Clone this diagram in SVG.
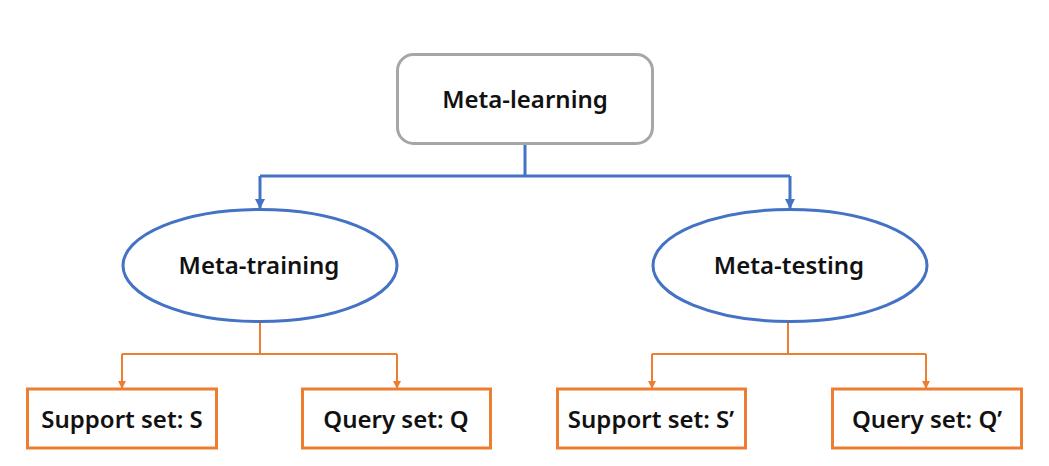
<svg xmlns="http://www.w3.org/2000/svg" width="1049" height="466" viewBox="0 0 1049 466">
<style>
text{font-family:"Noto Sans","Liberation Sans",sans-serif;font-weight:600;fill:#111;text-anchor:middle}
.t1{font-size:24px}
.t2{font-size:24px}
.blue{stroke:#4472c4;stroke-width:3;fill:none}
.orange{stroke:#ed7d31;stroke-width:2;fill:none}
</style>
<defs>
<marker id="ao" markerWidth="8" markerHeight="8" refX="7" refY="4" orient="auto" markerUnits="userSpaceOnUse" viewBox="0 0 8 8"><path d="M0,0 L8,4 L0,8 Z" fill="#ed7d31"/></marker>
<marker id="ab2" markerWidth="10" markerHeight="10" refX="9" refY="5" orient="auto" markerUnits="userSpaceOnUse" viewBox="0 0 10 10"><path d="M0,0 L10,5 L0,10 Z" fill="#4472c4"/></marker>
</defs>
<g id="connectors">
<path class="blue" d="M525,144 V176 M260,176 H790"/>
<path class="blue" d="M260,176 V208" marker-end="url(#ab2)"/>
<path class="blue" d="M790,176 V208" marker-end="url(#ab2)"/>
<path class="orange" d="M260,322 V354 M122,354 H397 M788,322 V354 M652,354 H926"/>
<path class="orange" d="M122,354 V388" marker-end="url(#ao)"/>
<path class="orange" d="M397,354 V388" marker-end="url(#ao)"/>
<path class="orange" d="M652,354 V388" marker-end="url(#ao)"/>
<path class="orange" d="M926,354 V388" marker-end="url(#ao)"/>
</g>
<g id="meta-learning">
<rect x="397.5" y="54.5" width="255" height="89" rx="16" fill="#fff" stroke="#a6a6a6" stroke-width="3"/>
<text class="t1" x="525" y="108">Meta-learning</text>
</g>
<g id="meta-training">
<ellipse cx="260" cy="265.5" rx="137" ry="56" fill="#fff" stroke="#4472c4" stroke-width="3"/>
<text class="t1" x="259" y="274">Meta-training</text>
</g>
<g id="meta-testing">
<ellipse cx="790" cy="265.5" rx="137" ry="56" fill="#fff" stroke="#4472c4" stroke-width="3"/>
<text class="t1" x="789" y="274">Meta-testing</text>
</g>
<g id="support-s">
<rect x="27.5" y="389" width="189" height="59" fill="#fff" stroke="#ed7d31" stroke-width="3"/>
<text class="t2" x="122" y="428">Support set: S</text>
</g>
<g id="query-q">
<rect x="302.5" y="389" width="188" height="59" fill="#fff" stroke="#ed7d31" stroke-width="3"/>
<text class="t2" x="396" y="428">Query set: Q</text>
</g>
<g id="support-s2">
<rect x="557.5" y="389" width="188" height="59" fill="#fff" stroke="#ed7d31" stroke-width="3"/>
<text class="t2" x="651" y="428">Support set: S’</text>
</g>
<g id="query-q2">
<rect x="832.5" y="389" width="189" height="59" fill="#fff" stroke="#ed7d31" stroke-width="3"/>
<text class="t2" x="927" y="428">Query set: Q’</text>
</g>
</svg>
